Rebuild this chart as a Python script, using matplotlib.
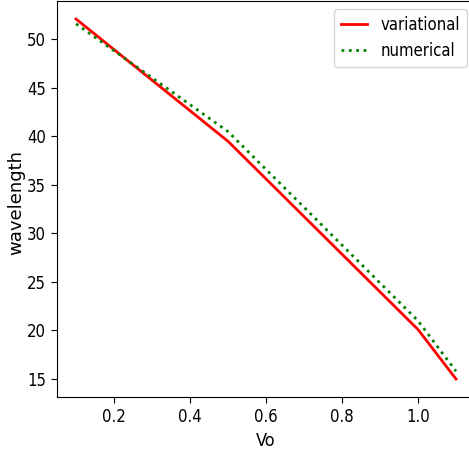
import matplotlib
matplotlib.use("Agg")
import matplotlib.pyplot as plt

# Wavelength versus Vo for the two methods
vo = [0.1, 0.5, 1.0, 1.1]
variational = [52.1, 39.5, 20.1, 15.0]
numerical = [51.6, 40.5, 21.0, 15.8]

plt.rcParams["font.family"] = ["DejaVu Sans"]
plt.rcParams["font.stretch"] = "condensed"
plt.rcParams["font.size"] = 13

fig = plt.figure(figsize=(4.69, 4.58), dpi=100)
ax = fig.add_axes([57 / 469, 61 / 458, 418 / 469, 396 / 458])

ax.plot(vo, variational, color="red", lw=2, label="variational")
ax.plot(vo, numerical, color="green", lw=2, ls=":", label="numerical")

ax.set_xticks([0.2, 0.4, 0.6, 0.8, 1.0])
ax.set_yticks([15, 20, 25, 30, 35, 40, 45, 50])
ax.tick_params(length=4.5, labelsize=12)
ax.set_xlabel("Vo", fontsize=13)
ax.set_ylabel("wavelength", fontsize=13, fontstretch="normal")
ax.yaxis.set_label_coords(-0.077, 0.49)
ax.legend(loc="upper right", fontsize=12, handlelength=1.6)

fig.savefig("out.png", dpi=100)
